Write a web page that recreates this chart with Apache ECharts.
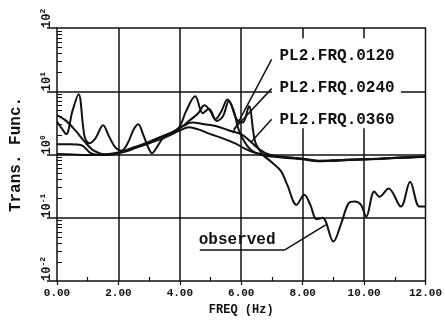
<!DOCTYPE html>
<html>
<head>
<meta charset="utf-8">
<script src="https://cdn.jsdelivr.net/npm/echarts@6/dist/echarts.min.js"></script>
<style>
html,body{margin:0;padding:0;background:#fff}
#main{width:445px;height:321px}
</style>
</head>
<body>
<div id="main"></div>
<script>
// observed transfer function
var obsFreq = [0, 0.15, 0.3, 0.5, 0.7, 0.9, 1.05, 1.25, 1.5, 1.7, 1.9, 2.1, 2.3, 2.5, 2.65, 2.8, 3.0, 3.1, 3.25, 3.45, 3.7, 4.0, 4.2, 4.5, 4.75, 4.95, 5.2, 5.4, 5.6, 5.85, 6.05, 6.25, 6.45, 6.7, 7.0, 7.3, 7.5, 7.8, 8.05, 8.25, 8.45, 8.65, 9.0, 9.25, 9.5, 9.7, 9.9, 10.07, 10.33, 10.5, 10.8, 11.2, 11.5, 11.8, 12];
var obsVal  = [3.3, 2.6, 2.1, 4.8, 9, 1.9, 1.5, 1.8, 2.9, 1.9, 1.3, 1.15, 1.5, 2.5, 3.0, 2.1, 1.2, 1.05, 1.3, 1.8, 2.1, 2.8, 4.8, 8.3, 4.5, 5.3, 3.4, 4.0, 7.0, 3.6, 3.2, 5.8, 1.6, 1.0, 0.75, 0.54, 0.33, 0.16, 0.23, 0.16, 0.095, 0.1, 0.042, 0.08, 0.17, 0.18, 0.16, 0.104, 0.26, 0.215, 0.29, 0.15, 0.37, 0.15, 0.15];

// PL2 runs
var p120Freq = [0, 0.3, 0.6, 0.9, 1.2, 1.6, 2.0, 2.4, 2.8, 3.2, 3.6, 4.0, 4.3, 4.6, 4.8, 5.0, 5.15, 5.35, 5.55, 5.75, 5.9, 6.1, 6.3, 6.6, 7.0, 7.5, 8.0, 8.5, 9.0, 9.5, 10, 10.5, 11, 11.5, 12];
var p120Val  = [4.2, 3.4, 2.4, 1.6, 1.15, 1.0, 1.05, 1.25, 1.45, 1.75, 2.1, 2.6, 3.4, 4.5, 6.0, 4.8, 3.6, 4.8, 7.4, 5.0, 2.6, 1.6, 1.2, 1.0, 0.93, 0.88, 0.84, 0.78, 0.8, 0.82, 0.83, 0.85, 0.88, 0.9, 0.92];
var p240Freq = [0, 0.4, 0.8, 1.1, 1.4, 1.8, 2.2, 2.6, 3.0, 3.4, 3.8, 4.1, 4.4, 4.8, 5.2, 5.6, 6.0, 6.3, 6.6, 6.9, 7.3, 8.0, 8.5, 9.0, 9.5, 10, 10.5, 11, 11.5, 12];
var p240Val  = [1.45, 1.45, 1.4, 1.05, 0.98, 1.0, 1.1, 1.3, 1.55, 1.9, 2.3, 2.8, 3.2, 3.0, 2.8, 2.4, 2.1, 1.6, 1.2, 1.0, 0.92, 0.86, 0.8, 0.81, 0.83, 0.84, 0.86, 0.89, 0.91, 0.93];
var p360Freq = [0, 0.5, 1.0, 1.5, 2.0, 2.5, 3.0, 3.5, 4.0, 4.3, 4.6, 5.0, 5.4, 5.8, 6.1, 6.4, 6.8, 7.2, 8.0, 8.5, 9.0, 9.5, 10, 10.5, 11, 11.5, 12];
var p360Val  = [1.02, 1.0, 0.98, 1.0, 1.08, 1.25, 1.5, 1.85, 2.4, 2.7, 2.5, 2.1, 1.8, 1.5, 1.25, 1.08, 1.0, 0.93, 0.85, 0.79, 0.8, 0.82, 0.84, 0.86, 0.88, 0.9, 0.93];

var xMinorTicks = [1, 3, 5, 7, 9, 11];
var yMinorTicks = [];
for (var e = -2; e < 2; e++) {
	for (var m = 2; m <= 9; m++) yMinorTicks.push(m * Math.pow(10, e));
}

function pairs(xs, ys) {
	return xs.map(function (x, i) { return [x, ys[i]]; });
}

var ink = '#111';
var monoFont = '"Liberation Mono", "DejaVu Sans Mono", monospace';

var myChart = echarts.init(document.getElementById('main'));

function curve(name, xs, ys) {
	return {
		name: name,
		type: 'line',
		data: pairs(xs, ys),
		smooth: 0.35,
		symbol: 'none',
		lineStyle: {color: ink, width: 2},
		z: 3
	};
}

var obsSeries = curve('observed', obsFreq, obsVal);
// grid lines (some broken for the label box) and leader lines
obsSeries.markLine = {
	silent: true,
	symbol: ['none', 'none'],
	animation: false,
	label: {show: false},
	lineStyle: {type: 'solid', color: ink, width: 1.5},
	data: [
		{xAxis: 2}, {xAxis: 4}, {xAxis: 6},
		{yAxis: 1}, {yAxis: 0.1},
		[{coord: [8, 0.01]}, {coord: [8, 2.6]}],
		[{coord: [10, 0.01]}, {coord: [10, 2.6]}],
		[{coord: [8, 100]}, {coord: [8, 69]}],
		[{coord: [10, 100]}, {coord: [10, 69]}],
		[{coord: [0, 10]}, {coord: [7.0, 10]}],
		[{coord: [11.2, 10]}, {coord: [12, 10]}],
		// leaders
		[{coord: [6.99, 32]}, {coord: [5.72, 2.2]}],
		[{coord: [6.99, 11]}, {coord: [5.76, 2.5]}],
		[{coord: [6.99, 3.6]}, {coord: [6.31, 1.55]}],
		[{coord: [4.65, 0.031]}, {coord: [7.42, 0.031]}],
		[{coord: [7.42, 0.031]}, {coord: [8.75, 0.077]}]
	]
};
obsSeries.markPoint = {
	silent: true,
	animation: false,
	symbol: 'circle',
	symbolSize: 1,
	itemStyle: {color: 'rgba(0,0,0,0)'},
	label: {
		show: true,
		position: 'right',
		distance: 7,
		color: ink,
		fontFamily: monoFont,
		fontWeight: 'bold',
		fontSize: 16
	},
	data: [
		{coord: [7.0, 36], label: {formatter: 'PL2.FRQ.0120'}},
		{coord: [7.0, 11.3], label: {formatter: 'PL2.FRQ.0240'}},
		{coord: [7.0, 3.5], label: {formatter: 'PL2.FRQ.0360'}},
		{coord: [4.6, 0.045], label: {formatter: 'observed', distance: 0}}
	]
};

option = {
	backgroundColor: '#fff',
	animation: false,
	grid: {
		left: 52,
		right: 15,
		top: 28,
		bottom: 40,
		show: true,
		borderColor: ink,
		borderWidth: 1.5
	},
	xAxis: [
		{
			type: 'value',
			min: 0,
			max: 12,
			interval: 2,
			name: 'FREQ (Hz)',
			nameLocation: 'middle',
			nameGap: 20,
			nameTextStyle: {color: ink, fontFamily: monoFont, fontWeight: 'bold', fontSize: 12},
			axisLine: {show: false},
			axisTick: {show: true, length: 4, lineStyle: {color: ink, width: 1.2}},
			splitLine: {show: false},
			axisLabel: {
				color: ink,
				fontFamily: monoFont,
				fontWeight: 'bold',
				fontSize: 11,
				margin: 7,
				formatter: function (v) { return v.toFixed(2); }
			}
		},
		{
			type: 'value',
			min: 0,
			max: 12,
			position: 'bottom',
			axisLine: {show: false},
			axisLabel: {show: false},
			splitLine: {show: false},
			axisTick: {show: true, inside: true, length: 4, customValues: xMinorTicks, lineStyle: {color: ink, width: 1.2}}
		}
	],
	yAxis: [
		{
			type: 'log',
			min: 0.01,
			max: 100,
			logBase: 10,
			name: 'Trans. Func.',
			nameLocation: 'middle',
			nameGap: 33,
			nameTextStyle: {color: ink, fontFamily: monoFont, fontWeight: 'bold', fontSize: 16},
			axisLine: {show: false},
			axisTick: {show: true, length: 10, lineStyle: {color: ink, width: 1.5}},
			splitLine: {show: false},
			axisLabel: {
				rotate: 90,
				align: 'left',
				verticalAlign: 'middle',
				margin: 11,
				showMinLabel: true,
				showMaxLabel: true,
				formatter: function (v) {
					var p = Math.round(Math.log10(v));
					return '{a|10}{b|' + p + '}';
				},
				rich: {
					a: {color: ink, fontFamily: monoFont, fontWeight: 'bold', fontSize: 12, lineHeight: 14, verticalAlign: 'bottom'},
					b: {color: ink, fontFamily: monoFont, fontWeight: 'bold', fontSize: 8, lineHeight: 14, verticalAlign: 'top'}
				}
			}
		},
		{
			type: 'log',
			min: 0.01,
			max: 100,
			logBase: 10,
			position: 'left',
			axisLine: {show: false},
			axisLabel: {show: false},
			splitLine: {show: false},
			axisTick: {show: true, inside: true, length: 5, customValues: yMinorTicks, lineStyle: {color: ink, width: 1}}
		}
	],
	series: [
		obsSeries,
		curve('PL2.FRQ.0120', p120Freq, p120Val),
		curve('PL2.FRQ.0240', p240Freq, p240Val),
		curve('PL2.FRQ.0360', p360Freq, p360Val)
	]
};
myChart.setOption(option);
</script>
</body>
</html>
